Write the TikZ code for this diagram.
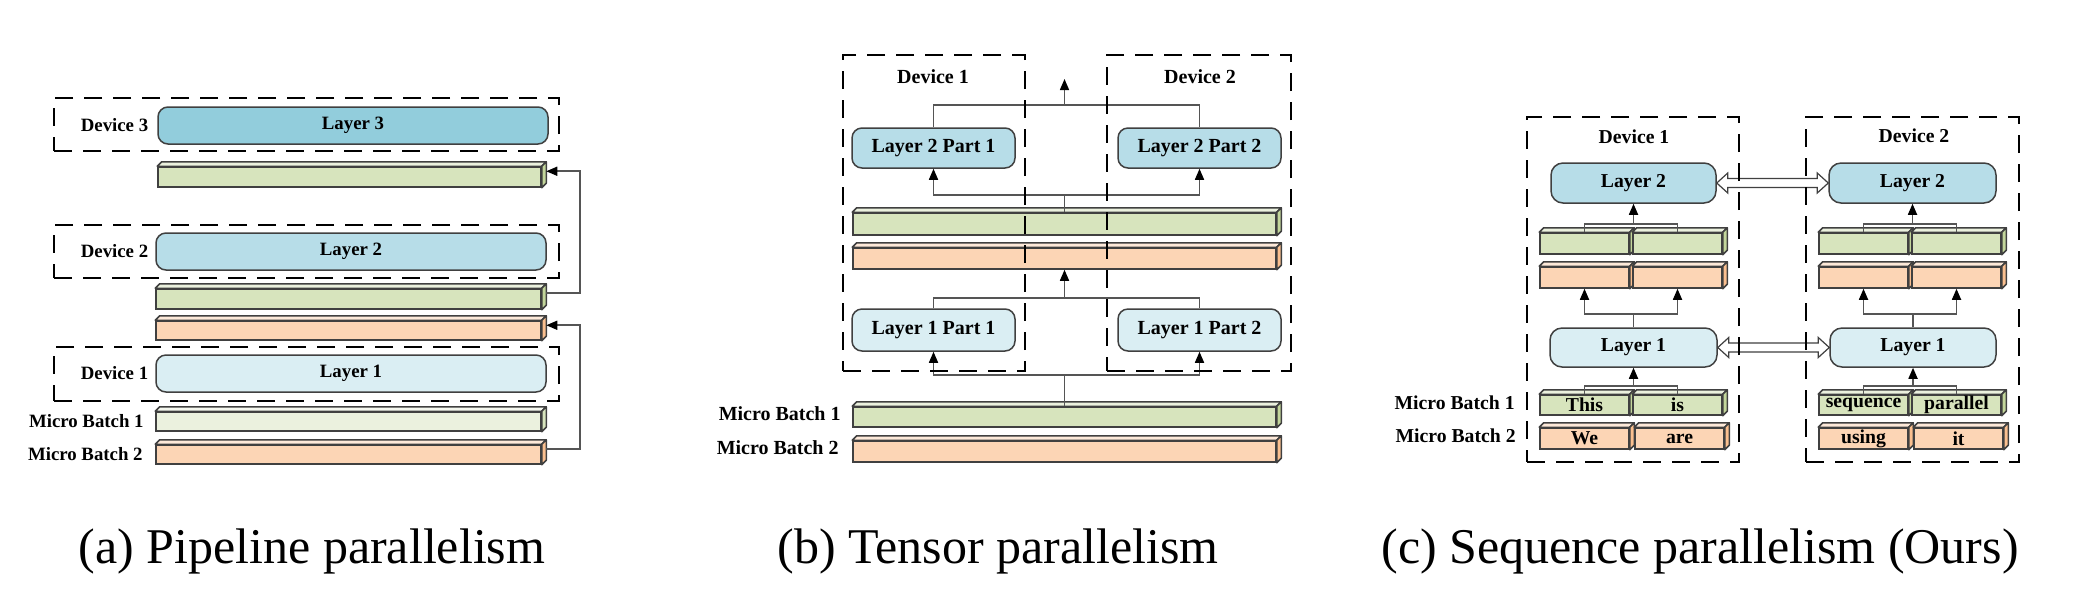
\documentclass[tikz,border=0pt]{standalone}
\usepackage{fontspec}
\setmainfont{Liberation Serif}
\usetikzlibrary{arrows.meta,fit,calc}

\definecolor{lay3}{HTML}{92CDDC}
\definecolor{lay2}{HTML}{B7DDE8}
\definecolor{lay1}{HTML}{DAEEF3}
\definecolor{grnf}{HTML}{D7E4BD}
\definecolor{grnt}{HTML}{EBF1DE}
\definecolor{grns}{HTML}{C3D69B}
\definecolor{lgrf}{HTML}{EBF1DE}
\definecolor{lgrt}{HTML}{F5F8EF}
\definecolor{lgrs}{HTML}{D7E4BD}
\definecolor{orgf}{HTML}{FCD5B5}
\definecolor{orgt}{HTML}{FDE9D9}
\definecolor{orgs}{HTML}{FABF8F}
\definecolor{bordc}{HTML}{404040}
\definecolor{lineg}{HTML}{555555}

\newcommand\fsA{\fontsize{9.4}{11}\selectfont\bfseries}
\newcommand\fsB{\fontsize{10}{12}\selectfont\bfseries}
\newcommand\fsC{\fontsize{9.85}{12}\selectfont\bfseries}
\newcommand\fsCap{\fontsize{25}{30}\selectfont}

\tikzset{
  box/.style={draw=bordc, line width=0.75pt, inner sep=0pt},
  layer/.style={box, rounded corners=5pt},
  devbox/.style={draw=black, line width=1pt, dash pattern=on 9pt off 5.5pt, inner sep=0pt},
  conn/.style={draw=lineg, line width=0.8pt},
  arr/.style={conn, -{Triangle[length=5.5pt,width=4.5pt,fill=black,color=black]}},
  lbl/.style={inner sep=0pt},
  face/.style={draw=bordc, line width=0.75pt, line join=round},
}

% 3D bar: name, corner1, corner2, front, top, side, text
\newcommand\tdbar[7]{%
  \node[box, fill=#4, fit={#2 #3}, label={[lbl]center:#7}] (#1) {};
  \filldraw[face, fill=#5] (#1.north west) -- ++(4.5,-4.5) -- ([shift={(4.5,-4.5)}]#1.north east) -- (#1.north east) -- cycle;
  \filldraw[face, fill=#6] (#1.north east) -- ++(4.5,-4.5) -- ([shift={(4.5,-4.5)}]#1.south east) -- (#1.south east) -- cycle;
}
% hollow double arrow between two points
\newcommand\dblarr[2]{%
  \filldraw[fill=white, draw=bordc, line width=0.6pt, line join=miter]
    (#1) -- ++(11,-10) -- ++(0,5.5) -- ($(#2)+(-11,-4.5)$) -- ++(0,-5.5) -- (#2)
    -- ++(-11,10) -- ++(0,-5.5) -- ($(#1)+(11,4.5)$) -- ++(0,5.5) -- cycle;
}

\begin{document}
\begin{tikzpicture}[x=0.5pt,y=-0.5pt]
\useasboundingbox[fill=white] (0,0) rectangle (2082,601);

%================ (a) Pipeline parallelism
\begin{scope}[font=\fsA]
\node[layer, fill=lay3, fit={(158,107) (548,144)}, label={[lbl]center:Layer 3}] (a-l3) {};
\tdbar{a-g3}{(158,167)}{(541,187)}{grnf}{grnt}{grns}{}
\node[layer, fill=lay2, fit={(156,233) (546,270)}, label={[lbl]center:Layer 2}] (a-l2) {};
\tdbar{a-g2}{(156,289)}{(541,309)}{grnf}{grnt}{grns}{}
\tdbar{a-o2}{(156,321)}{(541,340)}{orgf}{orgt}{orgs}{}
\node[layer, fill=lay1, fit={(156,355) (546,392)}, label={[lbl]center:Layer 1}] (a-l1) {};
\tdbar{a-mb1}{(156,412)}{(541,431)}{lgrf}{lgrt}{lgrs}{}
\tdbar{a-mb2}{(156,445)}{(541,464)}{orgf}{orgt}{orgs}{}

\node[lbl] (a-d3) at (114.5,125.5) {Device 3};
\node[lbl] (a-d2) at (114.5,251.5) {Device 2};
\node[lbl] (a-d1) at (114.5,373.5) {Device 1};
\node[lbl, anchor=east] (a-m1) at (144,421.5) {Micro Batch 1};
\node[lbl, anchor=east] (a-m2) at (143,454.5) {Micro Batch 2};

\draw[arr] ([shift={(4.5,5)}]a-mb2.north east) -- ++(34,0) |- ([shift={(4.5,5)}]a-o2.north east);
\draw[arr] ([shift={(4.5,5)}]a-g2.north east) -- ++(34,0) |- ([shift={(4.5,5)}]a-g3.north east);

\node[devbox, fit={(54,98) (559,151)}] (a-dev3) {};
\node[devbox, fit={(54,225) (559,278)}] (a-dev2) {};
\node[devbox, fit={(54,347) (559,401)}] (a-dev1) {};
\end{scope}
\node[anchor=base, font=\fsCap] (a-cap) at (312,563) {(a) Pipeline parallelism};

%================ (b) Tensor parallelism
\begin{scope}[font=\fsB]
\node[layer, fill=lay2, fit={(852,128) (1015,168)}, label={[lbl]center:Layer 2 Part 1}] (b-l2a) {};
\node[layer, fill=lay2, fit={(1118,128) (1281,168)}, label={[lbl]center:Layer 2 Part 2}] (b-l2b) {};
\tdbar{b-g}{(853,213)}{(1276,235)}{grnf}{grnt}{grns}{}
\tdbar{b-o}{(853,248)}{(1276,269)}{orgf}{orgt}{orgs}{}
\node[layer, fill=lay1, fit={(852,309) (1015,351)}, label={[lbl]center:Layer 1 Part 1}] (b-l1a) {};
\node[layer, fill=lay1, fit={(1118,309) (1281,351)}, label={[lbl]center:Layer 1 Part 2}] (b-l1b) {};
\tdbar{b-mb1}{(853,407)}{(1276,427)}{grnf}{grnt}{grns}{}
\tdbar{b-mb2}{(853,441)}{(1276,462)}{orgf}{orgt}{orgs}{}

\node[lbl] (b-d1) at (933,77) {Device 1};
\node[lbl] (b-d2) at (1200,77) {Device 2};
\node[lbl, anchor=east] (b-m1) at (841,414) {Micro Batch 1};
\node[lbl, anchor=east] (b-m2) at (839,448) {Micro Batch 2};

\coordinate (b-f1) at ($(b-mb1.north)+(0,-31)$);
\draw[conn] (b-mb1.north) -- (b-f1);
\draw[arr] (b-f1) -| (b-l1a.south);
\draw[arr] (b-f1) -| (b-l1b.south);
\coordinate (b-f2) at ($(b-o.south)+(0,28)$);
\draw[conn] (b-l1a.north) |- (b-f2) -| (b-l1b.north);
\draw[arr] (b-f2) -- (b-o.south);
\coordinate (b-f3) at ($(b-g.north)+(0,-17)$);
\draw[conn] (b-g.north) -- (b-f3);
\draw[arr] (b-f3) -| (b-l2a.south);
\draw[arr] (b-f3) -| (b-l2b.south);
\coordinate (b-f4) at (1064.5,105);
\coordinate (b-tip) at (1064.5,79);
\draw[conn] (b-l2a.north) |- (b-f4) -| (b-l2b.north);
\draw[arr] (b-f4) -- (b-tip);

\node[devbox, fit={(843,55) (1025,371)}] (b-dev1) {};
\node[devbox, fit={(1107,55) (1291,371)}] (b-dev2) {};
\end{scope}
\node[anchor=base, font=\fsCap] (b-cap) at (998,563) {(b) Tensor parallelism};

%================ (c) Sequence parallelism
\begin{scope}[font=\fsC]
\node[layer, fill=lay2, fit={(1551,163) (1716,203)}, rounded corners=6pt, label={[lbl]center:Layer 2}] (c-l2a) {};
\node[layer, fill=lay2, fit={(1829,163) (1996,203)}, rounded corners=6pt, label={[lbl]center:Layer 2}] (c-l2b) {};
\tdbar{c-ga1}{(1540,233)}{(1629,254)}{grnf}{grnt}{grns}{}
\tdbar{c-ga2}{(1633,233)}{(1722,254)}{grnf}{grnt}{grns}{}
\tdbar{c-gb1}{(1819,233)}{(1908,254)}{grnf}{grnt}{grns}{}
\tdbar{c-gb2}{(1912,233)}{(2001,254)}{grnf}{grnt}{grns}{}
\tdbar{c-oa1}{(1540,267)}{(1629,288)}{orgf}{orgt}{orgs}{}
\tdbar{c-oa2}{(1633,267)}{(1722,288)}{orgf}{orgt}{orgs}{}
\tdbar{c-ob1}{(1819,267)}{(1908,288)}{orgf}{orgt}{orgs}{}
\tdbar{c-ob2}{(1912,267)}{(2001,288)}{orgf}{orgt}{orgs}{}
\node[layer, fill=lay1, fit={(1550,328) (1717,367)}, rounded corners=6pt, label={[lbl]center:Layer 1}] (c-l1a) {};
\node[layer, fill=lay1, fit={(1830,328) (1996,367)}, rounded corners=6pt, label={[lbl]center:Layer 1}] (c-l1b) {};
\tdbar{c-ma1}{(1540,395)}{(1629,415)}{grnf}{grnt}{grns}{This}
\tdbar{c-ma2}{(1633,395)}{(1722,415)}{grnf}{grnt}{grns}{is}
\tdbar{c-mb1}{(1819,395)}{(1908,415)}{grnf}{grnt}{grns}{sequence}
\tdbar{c-mb2}{(1912,395)}{(2001,415)}{grnf}{grnt}{grns}{parallel}
\tdbar{c-na1}{(1540,428)}{(1629,449)}{orgf}{orgt}{orgs}{We}
\tdbar{c-na2}{(1635,428)}{(1724,449)}{orgf}{orgt}{orgs}{are}
\tdbar{c-nb1}{(1819,428)}{(1908,449)}{orgf}{orgt}{orgs}{using}
\tdbar{c-nb2}{(1914,428)}{(2003,449)}{orgf}{orgt}{orgs}{it}

\node[lbl] (c-d1) at (1634,137) {Device 1};
\node[lbl] (c-d2) at (1914,136) {Device 2};
\node[lbl, anchor=east] (c-m1) at (1515,403) {Micro Batch 1};
\node[lbl, anchor=east] (c-m2) at (1516,436) {Micro Batch 2};

% device 1 connectors
\coordinate (c-a1) at ($(c-l1a.south)+(0,18)$);
\draw[conn] (c-ma1.north) |- (c-a1) -| (c-ma2.north);
\draw[arr] (c-a1) -- (c-l1a.south);
\coordinate (c-a2) at ($(c-l1a.north)+(0,-13)$);
\draw[conn] (c-l1a.north) -- (c-a2);
\draw[arr] (c-a2) -| (c-oa1.south);
\draw[arr] (c-a2) -| (c-oa2.south);
\coordinate (c-a3) at ($(c-l2a.south)+(0,20)$);
\draw[conn] (c-ga1.north) |- (c-a3) -| (c-ga2.north);
\draw[arr] (c-a3) -- (c-l2a.south);
% device 2 connectors
\coordinate (c-b1) at ($(c-l1b.south)+(0,18)$);
\draw[conn] (c-mb1.north) |- (c-b1) -| (c-mb2.north);
\draw[arr] (c-b1) -- (c-l1b.south);
\coordinate (c-b2) at ($(c-l1b.north)+(0,-13)$);
\draw[conn] (c-l1b.north) -- (c-b2);
\draw[arr] (c-b2) -| (c-ob1.south);
\draw[arr] (c-b2) -| (c-ob2.south);
\coordinate (c-b3) at ($(c-l2b.south)+(0,20)$);
\draw[conn] (c-gb1.north) |- (c-b3) -| (c-gb2.north);
\draw[arr] (c-b3) -- (c-l2b.south);

\dblarr{c-l2a.east}{c-l2b.west}
\dblarr{c-l1a.east}{c-l1b.west}

\node[devbox, fit={(1527,117) (1739,462)}] (c-dev1) {};
\node[devbox, fit={(1806,117) (2019,462)}] (c-dev2) {};
\end{scope}
\node[anchor=base, font=\fsCap] (c-cap) at (1700,563) {(c) Sequence parallelism (Ours)};
\end{tikzpicture}
\end{document}
